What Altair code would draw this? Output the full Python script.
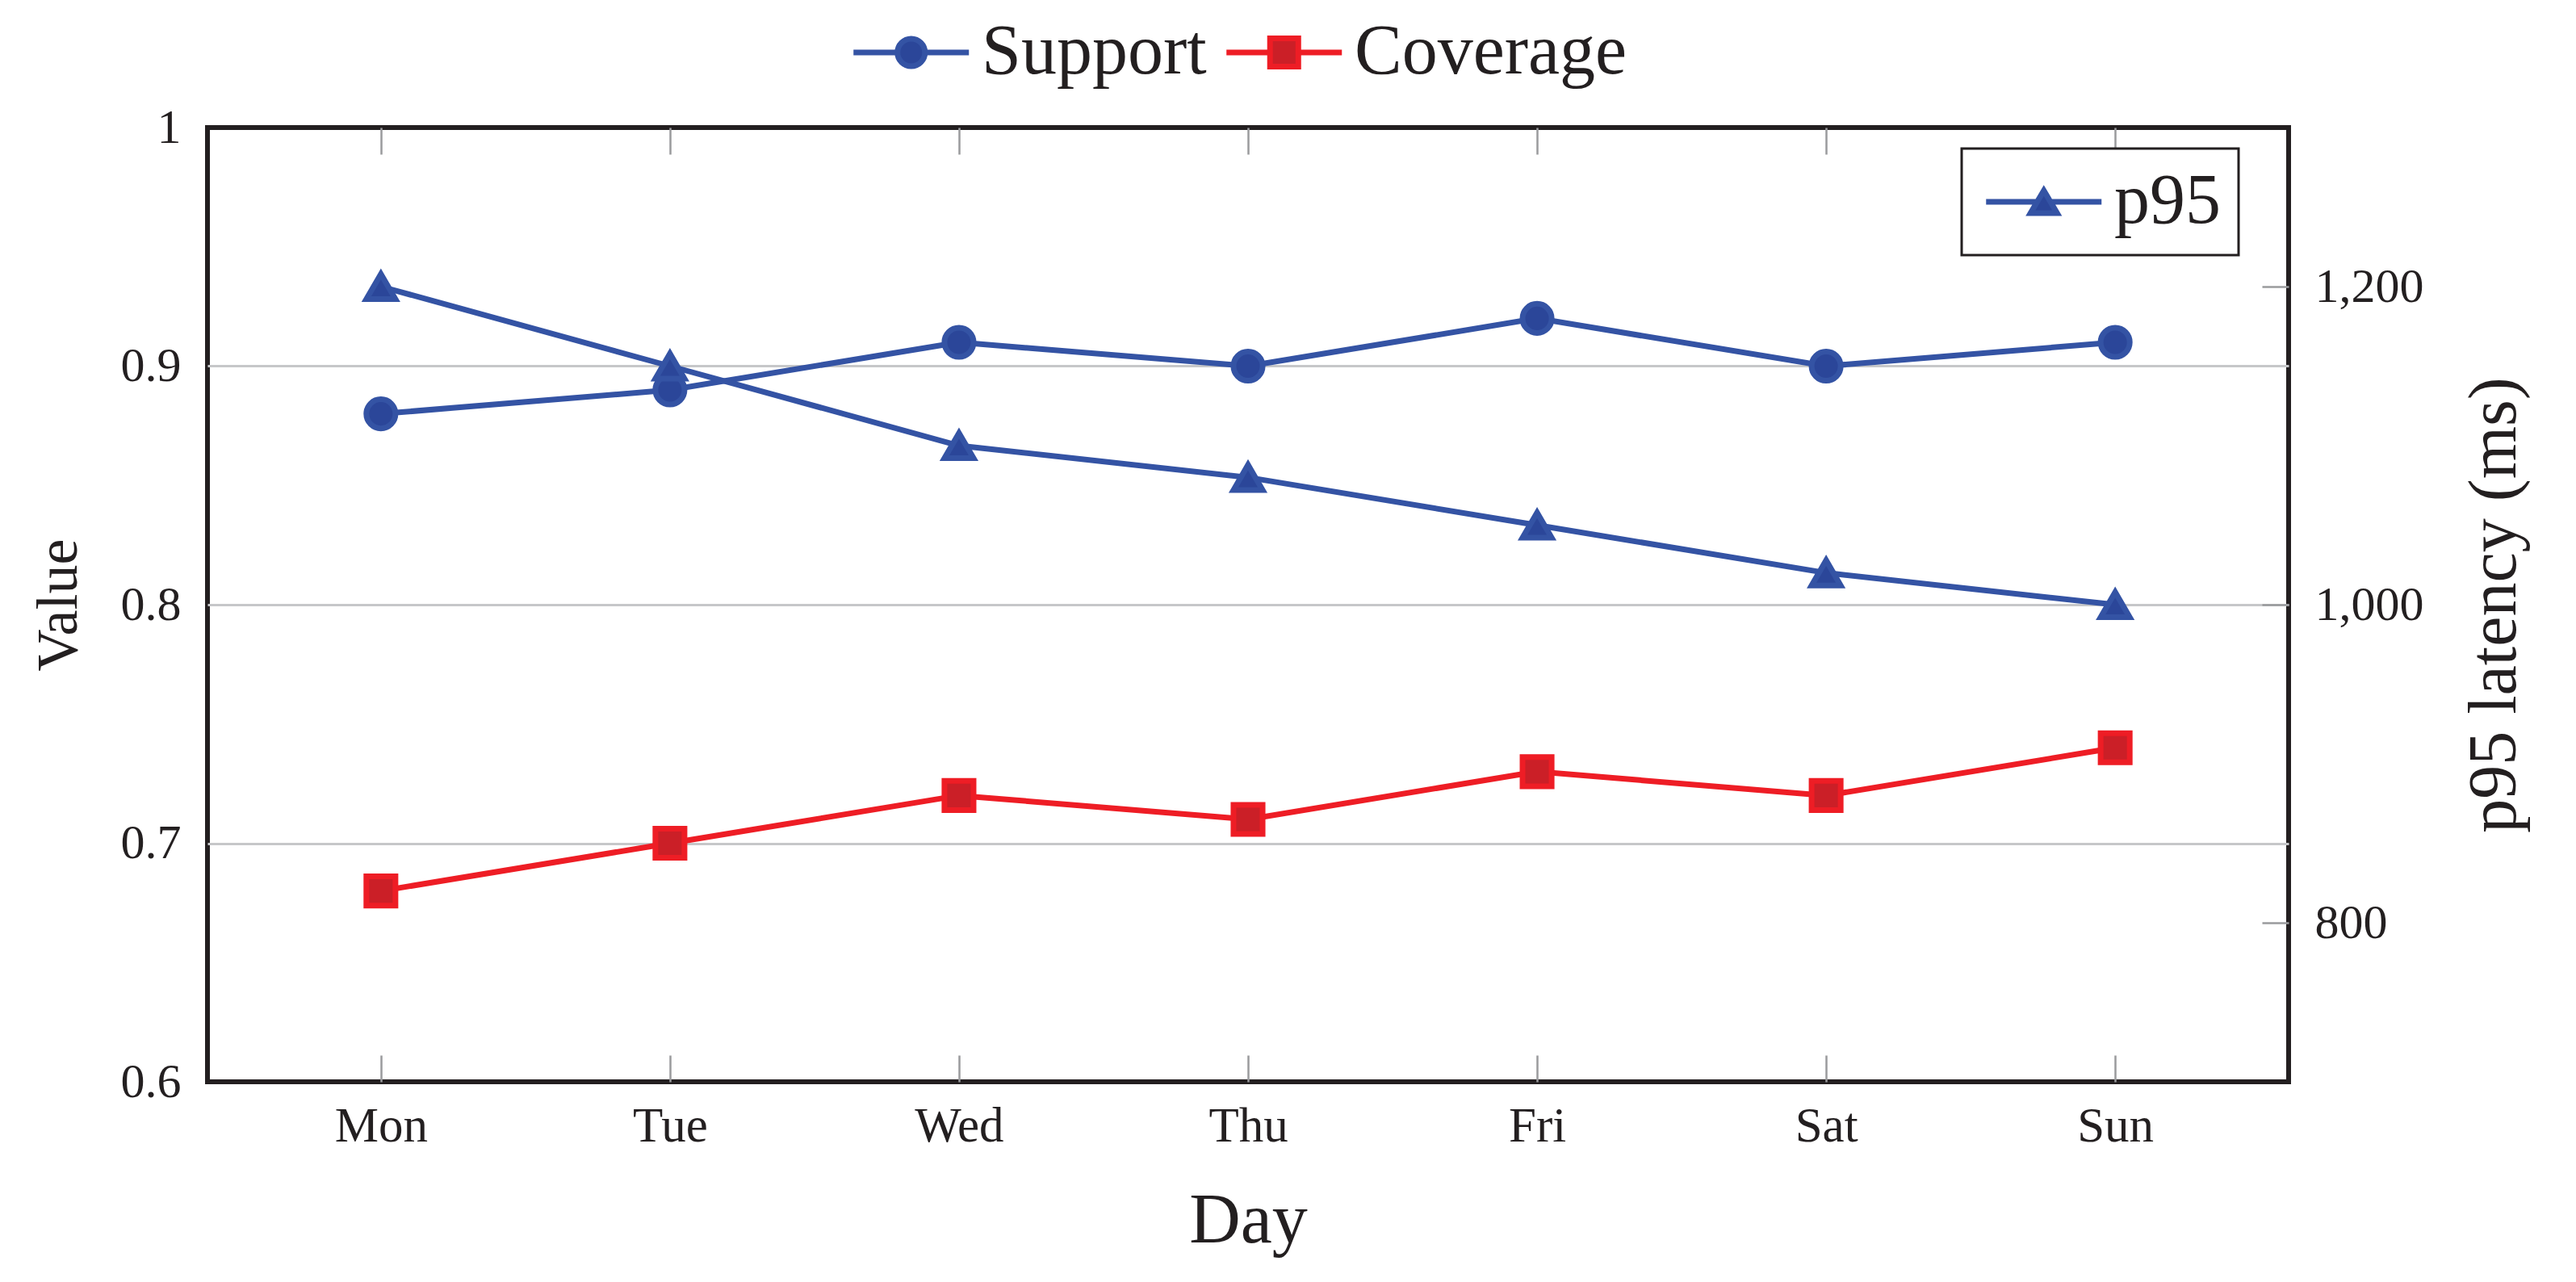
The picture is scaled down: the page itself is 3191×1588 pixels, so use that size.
import altair as alt
import pandas as pd

# ---------------- data ----------------
days = ["Mon", "Tue", "Wed", "Thu", "Fri", "Sat", "Sun"]
support = [0.88, 0.89, 0.91, 0.90, 0.92, 0.90, 0.91]
coverage = [0.68, 0.70, 0.72, 0.71, 0.73, 0.72, 0.74]
p95 = [1200, 1150, 1100, 1080, 1050, 1020, 1000]
left_series = ["Support", "Coverage"]
right_series = ["p95"]
left_ticks = [0.6, 0.7, 0.8, 0.9, 1.0]
right_ticks = [800, 1000, 1200]

# ---------------- style ----------------
W, H = 2578, 1182
FONT = "Liberation Serif"
TEXT = "#231F20"
FRAME = "#231F20"
GRID = "#C6C7C9"
TICK = "#9A9B9D"
BLUE, BLUE_D = "#3453A4", "#2B4699"
RED, RED_D = "#EE1D25", "#CB1F27"

CIRCLE_SYM = "M-1,0H0.524M1.476,0H3M0.524,0A0.476,0.476,0,1,0,1.476,0A0.476,0.476,0,1,0,0.524,0Z"
SQUARE_SYM = "M-1,0H0.51M1.49,0H3M0.51,-0.49H1.49V0.49H0.51Z"
TRI_SYM = "M-1,0H0.77M1.23,0H3M1,-0.39L1.46,0.39H0.54Z"

left_df = pd.DataFrame({
    "day": days * 2,
    "series": [left_series[0]] * len(days) + [left_series[1]] * len(days),
    "value": support + coverage,
})
right_df = pd.DataFrame({"day": days, "series": right_series[0], "value": p95})

xscale = alt.Scale(type="point", padding=0.6, domain=days)
x_axis = alt.Axis(
    title="Day", labelAngle=0, labelFontSize=61, labelPadding=73,
    labelBaseline="alphabetic", ticks=False, domain=False,
    grid=True, gridColor=TICK, gridWidth=2.5, gridDash=[33, H - 66, 33, 4000],
    titleFontSize=88, titleX=W / 2, titleY=198, titleBaseline="alphabetic",
    titleAlign="center",
)
y_left_scale = alt.Scale(domain=[0.6, 1.0], nice=False, zero=False)
y_left_axis = alt.Axis(
    orient="left", values=left_ticks, format="~g", labelFontSize=60,
    labelPadding=33, ticks=False, domain=False, grid=True, gridColor=GRID,
    gridWidth=3,
    gridOpacity={"condition": {"test": "datum.value < 0.65 || datum.value > 0.95", "value": 0},
                 "value": 1},
    title="Value", titleFontSize=72, titleAngle=270, titleX=-185, titleY=H / 2,
    titleBaseline="middle", titleAlign="center",
)
y_right_scale = alt.Scale(domain=[700, 1300], nice=False, zero=False)
y_right_axis = alt.Axis(
    orient="right", values=right_ticks, format=",.0f", labelFontSize=60,
    labelPadding=32, ticks=False, domain=False, grid=True, gridColor=TICK,
    gridWidth=2.5, gridDash=[33, 5000],
    title="p95 latency (ms)", titleFontSize=84, titleAngle=270, titleX=255,
    titleY=H / 2, titleBaseline="middle", titleAlign="center",
)


def xenc():
    return alt.X("day:N", sort=days, scale=xscale, axis=x_axis)


layers = []
# left-axis series
for i, (s, col, dark, shp, sz) in enumerate(zip(left_series, [BLUE, RED], [BLUE_D, RED_D],
                                                  ["circle", "square"], [1300, 1300])):
    base = alt.Chart(left_df).transform_filter(alt.datum.series == s)
    line = base.mark_line(color=col, strokeWidth=7).encode(
        x=xenc(),
        y=alt.Y("value:Q", scale=y_left_scale, axis=y_left_axis if i == 0 else None),
    )
    pts = base.mark_point(shape=shp, filled=True, fill=dark, stroke=col, strokeWidth=7,
                          size=sz, opacity=1).encode(
        x=xenc(),
        y=alt.Y("value:Q", scale=y_left_scale, axis=None),
    )
    layers += [line, pts]

# right-axis series
rbase = alt.Chart(right_df)
layers.append(rbase.mark_line(color=BLUE, strokeWidth=7).encode(
    x=xenc(),
    y=alt.Y("value:Q", scale=y_right_scale, axis=y_right_axis),
))
layers.append(rbase.mark_point(shape="triangle-up", filled=True, fill=BLUE_D, stroke=BLUE,
                               strokeWidth=7, size=1300, opacity=1).encode(
    x=xenc(),
    y=alt.Y("value:Q", scale=y_right_scale, axis=None),
))


def legend_layer(names, shapes, strokes, fills, lx, ly, pad, stroke_col):
    ldf = pd.DataFrame({"series": names})
    kw = dict(orient="none", legendX=lx, legendY=ly, direction="horizontal",
              columns=len(names), title=None, labelFont=FONT, labelFontSize=88,
              labelColor=TEXT, labelLimit=2000, symbolSize=5112, symbolStrokeWidth=7,
              labelOffset=79, columnPadding=10, padding=pad, symbolOpacity=1)
    if stroke_col:
        kw.update(strokeColor=stroke_col, fillColor="white")
    leg = alt.Legend(**kw)
    return alt.Chart(ldf).transform_filter("false").mark_point(
        filled=True, strokeWidth=7, opacity=1).encode(
        shape=alt.Shape("series:N", scale=alt.Scale(domain=names, range=shapes), legend=leg),
        fill=alt.Fill("series:N", scale=alt.Scale(domain=names, range=fills), legend=leg),
        stroke=alt.Stroke("series:N", scale=alt.Scale(domain=names, range=strokes), legend=leg),
    )


layers.append(legend_layer(left_series, [CIRCLE_SYM, SQUARE_SYM], [BLUE, RED], [BLUE_D, RED_D],
                           792, -137, 0, None))
layers.append(legend_layer(right_series, [TRI_SYM], [BLUE], [BLUE_D], 2173, 26, 22, FRAME))

chart = alt.layer(*layers).resolve_scale(
    y="independent", shape="independent", fill="independent", stroke="independent"
).properties(
    width=W, height=H,
    autosize=alt.AutoSizeParams(type="none"),
    padding={"left": 249, "top": 150, "right": 348, "bottom": 240},
).configure_view(
    stroke=FRAME, strokeWidth=6
).configure_axis(
    labelFont=FONT, titleFont=FONT, labelColor=TEXT, titleColor=TEXT,
    titleFontWeight="normal",
).configure_legend(
    strokeWidth=3
)

chart.save("out.html", embed_options={"renderer": "svg", "actions": False})
